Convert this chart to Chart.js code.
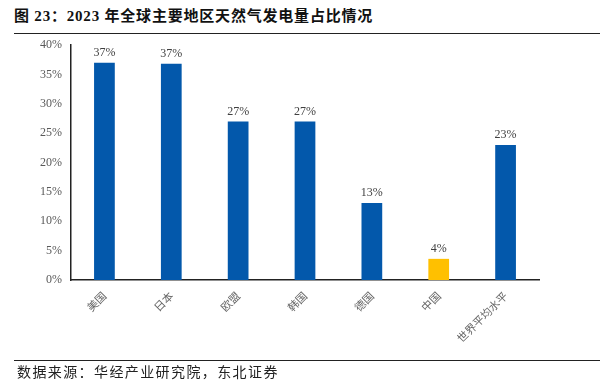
<!DOCTYPE html>
<html>
<head>
<meta charset="utf-8">
<script src="https://cdn.jsdelivr.net/npm/chart.js@4"></script>
<style>
  body { margin: 0; width: 605px; height: 384px; background: #fff; position: relative; overflow: hidden; }
  #title { position: absolute; left: 14px; top: 4px; font: bold 15px "Liberation Serif", "Noto Sans CJK SC"; color: #111; letter-spacing: 0.8px; }
  #topline { position: absolute; left: 14px; top: 33px; width: 586px; height: 1px; background: #222; }
  #botline { position: absolute; left: 14px; top: 360px; width: 586px; height: 1px; background: #222; }
  #source { position: absolute; left: 17px; top: 361px; font: 14px "Noto Sans CJK SC"; color: #222; letter-spacing: 1.4px; }
  #wrap { position: absolute; left: 0; top: 0; width: 605px; height: 384px; }
</style>
</head>
<body>
<div id="title">图 23：2023 年全球主要地区天然气发电量占比情况</div>
<div id="topline"></div>
<div id="wrap"><canvas id="myChart"></canvas></div>
<div id="botline"></div>
<div id="source">数据来源：华经产业研究院，东北证券</div>
<script>
const regions = ["美国", "日本", "欧盟", "韩国", "德国", "中国", "世界平均水平"];
const shares = [37.0, 36.8, 27.0, 27.0, 13.1, 3.6, 23.0];
const shareLabels = ["37%", "37%", "27%", "27%", "13%", "4%", "23%"];
const yTicks = [0, 5, 10, 15, 20, 25, 30, 35, 40];

const BLUE = "#0358AB";
const YELLOW = "#FFC000";

// value labels above each bar
const barLabels = {
  id: "barLabels",
  afterDatasetsDraw(chart) {
    const c = chart.ctx;
    const meta = chart.getDatasetMeta(0);
    c.save();
    c.font = "12px 'Liberation Serif'";
    c.fillStyle = "#404040";
    c.textAlign = "center";
    c.textBaseline = "bottom";
    meta.data.forEach((bar, i) => {
      c.fillText(shareLabels[i], bar.x, bar.y - 4);
    });
    c.restore();
  },
};

const ctx = document.getElementById("myChart");
new Chart(ctx, {
  type: "bar",
  data: {
    labels: regions,
    datasets: [
      {
        data: shares,
        backgroundColor: regions.map((r) => (r == "中国" ? YELLOW : BLUE)),
        barPercentage: 0.62,
        categoryPercentage: 0.5,
      },
    ],
  },
  options: {
    responsive: true,
    maintainAspectRatio: false,
    animation: false,
    layout: { padding: { left: 0, top: 45, right: 66, bottom: 0 } },
    plugins: { legend: { display: false }, tooltip: { enabled: false } },
    scales: {
      x: {
        afterFit: (s) => { s.height = 104; },
        grid: { display: false, drawTicks: false },
        border: { color: "#222", width: 1.5 },
        ticks: {
          minRotation: 45,
          maxRotation: 45,
          padding: 9,
          color: "#666",
          font: { family: "Noto Sans CJK SC", size: 11 },
        },
      },
      y: {
        min: 0,
        max: 40,
        afterFit: (s) => { s.width = 71; },
        afterBuildTicks: (s) => { s.ticks = yTicks.map((v) => ({ value: v })); },
        grid: { display: false, drawTicks: true, tickLength: 3, color: "#222" },
        border: { color: "#222", width: 1.5 },
        ticks: {
          padding: 6,
          color: "#595959",
          font: { family: "Liberation Serif", size: 12 },
          callback: (v) => v + "%",
        },
      },
    },
  },
  plugins: [barLabels],
});
</script>
</body>
</html>
